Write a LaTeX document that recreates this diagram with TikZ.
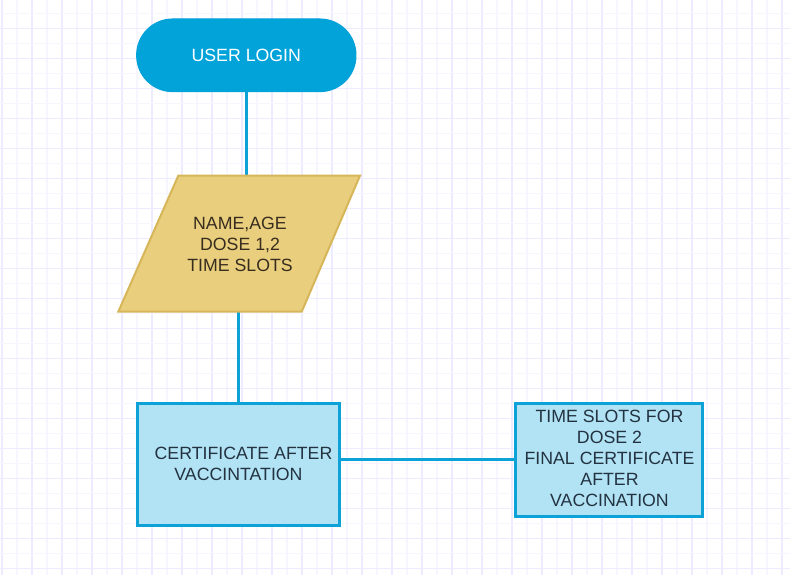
\documentclass[tikz,border=0pt]{standalone}
\usepackage{fontspec}
\setmainfont{Liberation Sans}
\definecolor{gridlight}{RGB}{247,246,255}
\definecolor{griddark}{RGB}{237,235,255}
\definecolor{loginfill}{RGB}{2,163,217}
\definecolor{linkblue}{RGB}{12,162,216}
\definecolor{boxfill}{RGB}{177,227,244}
\definecolor{boxtext}{RGB}{35,50,65}
\definecolor{parafill}{RGB}{233,206,126}
\definecolor{paradraw}{RGB}{214,182,88}
\definecolor{paratext}{RGB}{55,45,30}
\tikzset{
  txt/.style={font=\fontsize{13.3pt}{15.75pt}\selectfont, align=center, inner sep=0pt},
  link/.style={draw=linkblue, line width=2.25pt},
  loginbox/.style={txt, fill=loginfill, draw=loginfill, line width=0.75pt, text=white,
    rounded corners=27pt, minimum width=164.5pt, minimum height=54.5pt},
  procbox/.style={txt, fill=boxfill, draw=linkblue, line width=2.25pt, text=boxtext}
}
\begin{document}
\begin{tikzpicture}[x=0.75pt, y=-0.75pt]
\useasboundingbox (0,0) rectangle (790,575);
\fill[white] (0,0) rectangle (790,575);
% grid
\foreach \k in {0,...,26} {
  \draw[gridlight, line width=0.9pt] ({17+30*\k},0) -- ({17+30*\k},575);
  \draw[griddark, line width=0.9pt] ({2+30*\k},0) -- ({2+30*\k},575);
}
\foreach \k in {0,...,18} {
  \draw[gridlight, line width=0.9pt] (0,{13.33+30*\k}) -- (790,{13.33+30*\k});
  \draw[griddark, line width=0.9pt] (0,{28.33+30*\k}) -- (790,{28.33+30*\k});
}
% nodes
\node[loginbox] (login) at (246.3,55.3) {USER LOGIN};
\coordinate (ptop) at (246.3,175.7);
\coordinate (pbot) at (238.5,311.7);
\node[procbox, minimum width=151.2pt, minimum height=91.3pt] (cert) at (238.5,464.2) {};
\node[procbox, minimum width=140.25pt, minimum height=84.5pt] (final) at (609.2,459.7) {};
% connectors
\draw[link] (login.south) -- (ptop);
\draw[link] (pbot) -- (cert.north);
\draw[link] (cert.east |- final.west) -- (final.west);
% parallelogram
\filldraw[fill=parafill, draw=paradraw, line width=1.5pt]
  (178.3,175.7) -- (360,175.7) -- (301.7,311.7) -- (118.3,311.7) -- cycle;
\node[txt, text=paratext] (para) at (240,244.5) {NAME,AGE\\DOSE 1,2\\TIME SLOTS};
% box texts
\node[txt, text=boxtext] (certtext) at (cert.center) {\hspace*{7.5pt}CERTIFICATE AFTER\\VACCINTATION};
\node[txt, text=boxtext] (finaltext) at (609.5,458.7) {TIME SLOTS FOR\\DOSE 2\\FINAL CERTIFICATE\\AFTER\\VACCINATION};
\end{tikzpicture}
\end{document}
